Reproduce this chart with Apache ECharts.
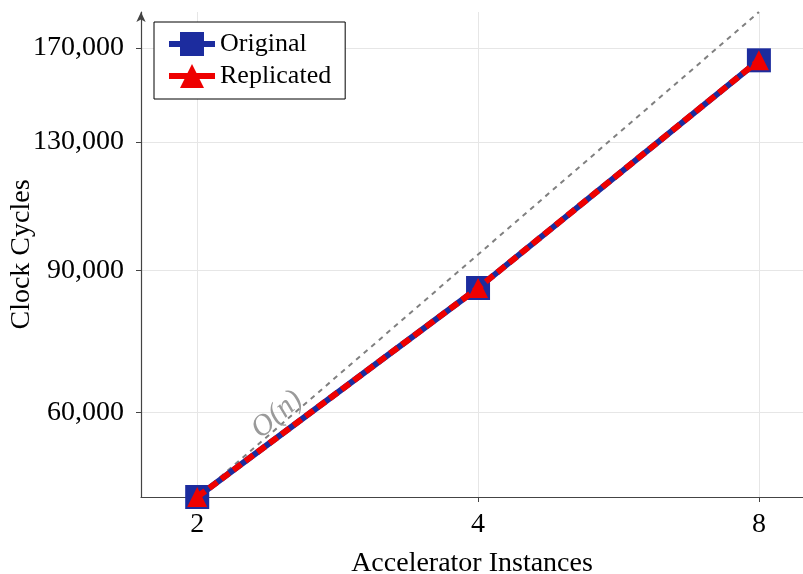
<!DOCTYPE html>
<html>
<head>
<meta charset="utf-8">
<script src="https://cdn.jsdelivr.net/npm/echarts@6/dist/echarts.min.js"></script>
<style>
html,body{margin:0;padding:0;background:#fff;}
#main{width:803px;height:574px;}
</style>
</head>
<body>
<div id="main"></div>
<script>
// ---- data ----
const instances = [2, 4, 8];
const originalCycles = [47100, 85600, 164100];
const replicatedCycles = [47100, 85600, 164100];
const linearRef = [47100, 94200, 188400];
const xTicks = [2, 4, 8];
const yTicks = [60000, 90000, 130000, 170000];
const xRange = [1.741, 8.92];
const yRange = [47100, 188400];

const lg2 = v => Math.log(v) / Math.LN2;
const lg10 = v => Math.log10(v);
const fmt = v => v.toLocaleString('en-US');
const pairs = (xs, ys) => xs.map((x, i) => [lg2(x), lg10(ys[i])]);

const FONT = 'Liberation Serif';
const BLUE = '#1c2c9e';
const RED = '#ee0000';

const chart = echarts.init(document.getElementById('main'), null, {renderer: 'canvas'});
chart.setOption({
  animation: false,
  backgroundColor: '#fff',
  grid: {left: 141, right: 0, top: 12, bottom: 77, containLabel: false, outerBoundsMode: 'none'},
  legend: {
    orient: 'vertical',
    left: 154, top: 22,
    padding: [9, 14, 10, 12],
    itemGap: 6,
    itemWidth: 46, itemHeight: 30,
    borderColor: '#000', borderWidth: 1,
    backgroundColor: '#fff',
    lineStyle: {width: 6, type: 'solid'},
    textStyle: {fontFamily: FONT, fontSize: 26, color: '#000'},
    data: ['Original', 'Replicated']
  },
  xAxis: {
    type: 'value',
    min: lg2(xRange[0]), max: lg2(xRange[1]),
    name: 'Accelerator Instances',
    nameLocation: 'middle', nameGap: 53, nameMoveOverlap: false,
    nameTextStyle: {fontFamily: FONT, fontSize: 28, color: '#000'},
    axisLine: {show: true, onZero: false, lineStyle: {color: '#444', width: 1.2}},
    axisTick: {show: true, length: 5, customValues: xTicks.map(lg2), lineStyle: {color: '#444'}},
    axisLabel: {
      customValues: xTicks.map(lg2), margin: 14,
      fontFamily: FONT, fontSize: 28, color: '#000',
      formatter: v => String(Math.round(Math.pow(2, v)))
    },
    splitLine: {show: true, lineStyle: {color: '#e6e6e6', width: 1}}
  },
  yAxis: {
    type: 'value',
    min: lg10(yRange[0]), max: lg10(yRange[1]),
    name: 'Clock Cycles',
    nameLocation: 'middle', nameGap: 105, nameMoveOverlap: false,
    nameTextStyle: {fontFamily: FONT, fontSize: 28, color: '#000'},
    axisLine: {show: true, onZero: false, symbol: ['none', 'arrow'], symbolSize: [7, 10], symbolOffset: [0, 0],
      lineStyle: {color: '#444', width: 1.2}},
    axisTick: {show: true, length: 5, customValues: yTicks.map(lg10), lineStyle: {color: '#444'}},
    axisLabel: {
      customValues: yTicks.map(lg10), margin: 17,
      fontFamily: FONT, fontSize: 28, color: '#000',
      formatter: v => {
        let best = yTicks[0];
        yTicks.forEach(t => { if (Math.abs(lg10(t) - v) < Math.abs(lg10(best) - v)) best = t; });
        return fmt(best);
      }
    },
    splitLine: {show: true, lineStyle: {color: '#e6e6e6', width: 1}}
  },
  series: [
    {
      name: 'O(n)',
      type: 'line',
      data: pairs(instances, linearRef),
      symbol: 'none',
      silent: true,
      z: 1,
      lineStyle: {color: '#808080', width: 2, type: [5, 5]}
    },
    {
      name: 'Original',
      type: 'line',
      data: pairs(instances, originalCycles),
      symbol: 'rect', symbolSize: 24,
      z: 2,
      itemStyle: {color: BLUE},
      lineStyle: {color: BLUE, width: 6}
    },
    {
      name: 'Replicated',
      type: 'line',
      data: pairs(instances, replicatedCycles),
      symbol: 'triangle', symbolSize: 20,
      z: 3,
      itemStyle: {color: RED},
      lineStyle: {color: RED, width: 6, type: [10, 5]}
    }
  ]
});

// O(n) annotation placed along the reference line
const toPx = (x, y) => chart.convertToPixel({gridIndex: 0}, [lg2(x), lg10(y)]);
const anchor = toPx(2.436, 59600);
const p0 = toPx(instances[0], linearRef[0]);
const p1 = toPx(instances[2], linearRef[2]);
chart.setOption({
  graphic: [{
    type: 'text',
    x: anchor[0], y: anchor[1],
    rotation: Math.atan2(p0[1] - p1[1], p1[0] - p0[0]),
    style: {
      text: 'O(n)',
      fontFamily: FONT, fontStyle: 'italic', fontSize: 30,
      fill: '#9a9a9a',
      align: 'center', verticalAlign: 'middle'
    },
    z: 10
  }]
});
</script>
</body>
</html>
